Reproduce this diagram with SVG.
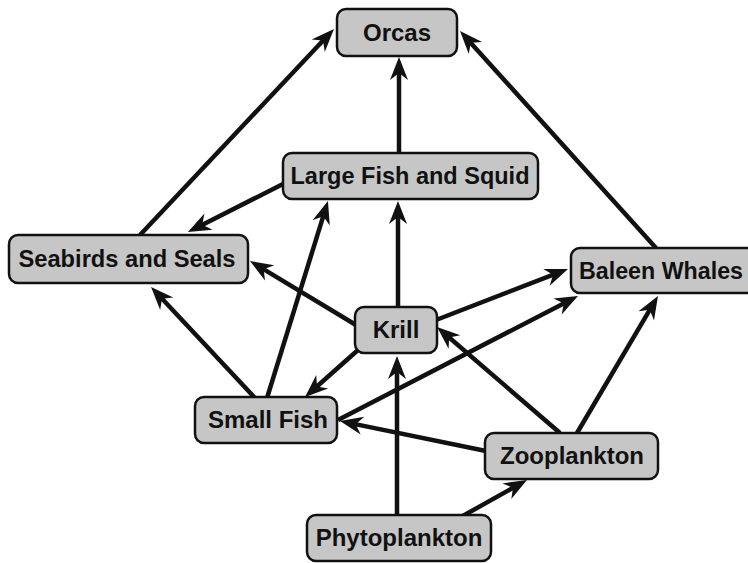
<svg xmlns="http://www.w3.org/2000/svg" width="748" height="563" viewBox="0 0 748 563">
<style>
.box{fill:#c6c6c6;stroke:#111;stroke-width:2.5}
.lbl{font-family:"Liberation Sans",Arial,Helvetica,sans-serif;font-weight:bold;font-size:24px;fill:#111;text-anchor:middle}
.edge{stroke:#111;stroke-width:4.5;fill:none;marker-end:url(#ah)}
</style>
<defs>
<marker id="ah" viewBox="-26 -11 28 22" refX="-8" refY="0" markerWidth="28" markerHeight="22" markerUnits="userSpaceOnUse" orient="auto">
<path d="M0,0 L-23,-9 L-16,0 L-23,9 Z" fill="#111"/>
</marker>
</defs>
<rect width="748" height="563" fill="#fff"/>
<g id="connectors">
<line class="edge" x1="140" y1="235" x2="328.5" y2="34.8"/>
<line class="edge" x1="399" y1="153" x2="399" y2="65"/>
<line class="edge" x1="656" y1="248" x2="465.4" y2="36.9"/>
<line class="edge" x1="283" y1="184" x2="195.1" y2="228.4"/>
<line class="edge" x1="356" y1="325" x2="256.8" y2="265.1"/>
<line class="edge" x1="255" y1="398" x2="156.5" y2="292.8"/>
<line class="edge" x1="267" y1="398" x2="325.6" y2="208.6"/>
<line class="edge" x1="398" y1="307" x2="398" y2="209"/>
<line class="edge" x1="436" y1="320" x2="560.5" y2="271.9"/>
<line class="edge" x1="338" y1="420" x2="570.9" y2="299.7"/>
<line class="edge" x1="358" y1="350" x2="311" y2="391.7"/>
<line class="edge" x1="397" y1="515" x2="397" y2="364"/>
<line class="edge" x1="560" y1="433" x2="443.1" y2="332.2"/>
<line class="edge" x1="486" y1="451" x2="347.8" y2="422.6"/>
<line class="edge" x1="577" y1="433" x2="653.9" y2="302.9"/>
<line class="edge" x1="452" y1="522" x2="520" y2="483.9"/>
</g>
<g id="orcas"><rect class="box" x="337" y="9" width="120" height="47" rx="9"/><text class="lbl" x="397" y="41">Orcas</text></g>
<g id="large-fish-squid"><rect class="box" x="283" y="153" width="255" height="46" rx="9"/><text class="lbl" x="410" y="184" textLength="239" lengthAdjust="spacingAndGlyphs">Large Fish and Squid</text></g>
<g id="seabirds-seals"><rect class="box" x="9" y="235" width="239" height="48" rx="9"/><text class="lbl" x="127" y="267" textLength="217" lengthAdjust="spacingAndGlyphs">Seabirds and Seals</text></g>
<g id="baleen-whales"><rect class="box" x="571" y="248" width="195" height="45" rx="9"/><text class="lbl" x="661" y="279" textLength="164" lengthAdjust="spacingAndGlyphs">Baleen Whales</text></g>
<g id="krill"><rect class="box" x="355" y="307" width="82" height="46" rx="9"/><text class="lbl" x="396" y="338">Krill</text></g>
<g id="small-fish"><rect class="box" x="195" y="397" width="142" height="46" rx="9"/><text class="lbl" x="268" y="428">Small Fish</text></g>
<g id="zooplankton"><rect class="box" x="485" y="433" width="173" height="46" rx="9"/><text class="lbl" x="572" y="464">Zooplankton</text></g>
<g id="phytoplankton"><rect class="box" x="307" y="515" width="184" height="46" rx="9"/><text class="lbl" x="399" y="546">Phytoplankton</text></g>
</svg>
